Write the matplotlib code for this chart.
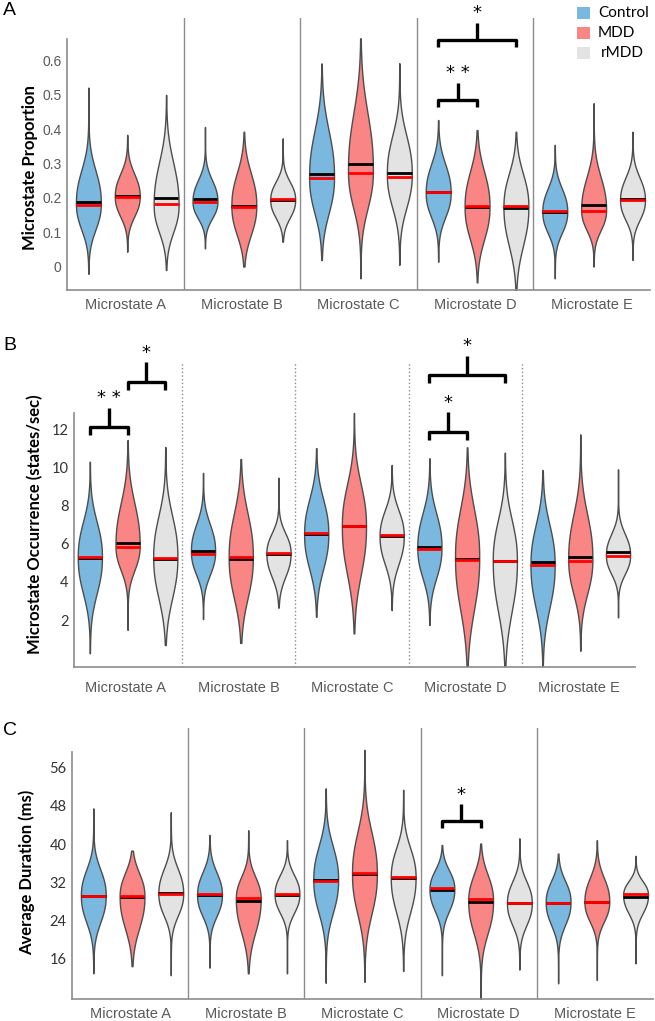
import numpy as np
import matplotlib
matplotlib.use("Agg")
import matplotlib.pyplot as plt
from matplotlib.patches import Rectangle

# ---- data ----
states = ["Microstate A", "Microstate B", "Microstate C", "Microstate D", "Microstate E"]
groups = ["Control", "MDD", "rMDD"]
colors = ["#7ab8e0", "#f98585", "#e3e3e3"]

# Panel A: microstate proportion
prop_lo = {"Control": [-0.02, 0.054, 0.02, 0.015, -0.033],
           "MDD": [0.044, 0.001, -0.033, -0.045, 0.001],
           "rMDD": [-0.009, 0.073, 0.006, -0.067, 0.02]}
prop_hi = {"Control": [0.52, 0.406, 0.59, 0.426, 0.354],
           "MDD": [0.383, 0.392, 0.663, 0.397, 0.475],
           "rMDD": [0.499, 0.373, 0.591, 0.392, 0.392]}
prop_peak = {"Control": [0.185, 0.19, 0.26, 0.215, 0.16],
             "MDD": [0.205, 0.178, 0.28, 0.175, 0.165],
             "rMDD": [0.18, 0.195, 0.27, 0.175, 0.194]}
prop_body_lo = {"Control": [0.06, 0.11, 0.09, 0.10, 0.06],
                "MDD": [0.11, 0.04, 0.10, 0.02, 0.07],
                "rMDD": [0.05, 0.11, 0.11, -0.01, 0.10]}
prop_body_hi = {"Control": [0.34, 0.29, 0.48, 0.35, 0.27],
                "MDD": [0.31, 0.33, 0.55, 0.34, 0.32],
                "rMDD": [0.38, 0.28, 0.45, 0.33, 0.30]}
prop_mean = {"Control": [0.189, 0.197, 0.27, 0.218, 0.159],
             "MDD": [0.206, 0.177, 0.298, 0.173, 0.18],
             "rMDD": [0.199, 0.194, 0.272, 0.172, 0.196]}
prop_median = {"Control": [0.180, 0.189, 0.257, 0.216, 0.161],
               "MDD": [0.203, 0.175, 0.273, 0.176, 0.163],
               "rMDD": [0.182, 0.197, 0.26, 0.178, 0.194]}

# Panel B: occurrence (states/sec)
occ_lo = {"Control": [0.26, 2.05, 2.17, 1.74, -0.4],
          "MDD": [1.48, 0.8, 1.3, -0.4, 0.39],
          "rMDD": [0.69, 2.65, 2.52, -0.4, 2.14]}
occ_hi = {"Control": [10.29, 9.7, 11.0, 10.47, 9.85],
          "MDD": [11.42, 10.43, 12.84, 11.04, 11.72],
          "rMDD": [11.06, 9.45, 10.12, 10.76, 9.89]}
occ_peak = {"Control": [5.3, 5.6, 6.5, 5.8, 4.9],
            "MDD": [5.9, 5.3, 6.9, 5.3, 5.2],
            "rMDD": [5.3, 5.5, 6.4, 5.1, 5.4]}
occ_body_lo = {"Control": [2.2, 3.6, 3.5, 3.2, 1.2],
               "MDD": [3.8, 1.8, 2.8, 0.8, 2.2],
               "rMDD": [1.8, 3.5, 4.0, 0.8, 3.8]}
occ_body_hi = {"Control": [8.3, 7.9, 9.5, 8.7, 8.3],
               "MDD": [9.5, 9.0, 10.5, 9.4, 9.0],
               "rMDD": [8.8, 7.2, 8.6, 8.6, 7.2]}
occ_mean = {"Control": [5.26, 5.63, 6.5, 5.8, 5.05],
            "MDD": [6.05, 5.21, 6.9, 5.19, 5.31],
            "rMDD": [5.21, 5.45, 6.41, 5.07, 5.54]}
occ_median = {"Control": [5.31, 5.45, 6.55, 5.73, 4.88],
              "MDD": [5.84, 5.3, 6.94, 5.15, 5.1],
              "rMDD": [5.26, 5.5, 6.46, 5.1, 5.35]}

# Panel C: average duration (ms)
dur_lo = {"Control": [12.8, 14.0, 10.8, 12.4, 10.7],
          "MDD": [14.3, 12.8, 11.0, 7.4, 11.4],
          "rMDD": [12.4, 12.8, 13.3, 13.6, 14.9]}
dur_hi = {"Control": [47.5, 41.9, 51.7, 39.8, 38.0],
          "MDD": [38.6, 42.9, 59.8, 40.1, 40.8],
          "rMDD": [46.7, 40.8, 51.4, 41.2, 37.5]}
dur_peak = {"Control": [29.2, 29.3, 32.5, 30.5, 27.8],
            "MDD": [29.0, 28.5, 33.7, 28.0, 27.9],
            "rMDD": [29.6, 29.5, 33.0, 27.6, 29.3]}
dur_body_lo = {"Control": [20, 22, 21, 23, 20],
               "MDD": [18, 17, 20, 17, 21],
               "rMDD": [22, 23, 21, 20, 23]}
dur_body_hi = {"Control": [38, 37, 44, 37, 35],
               "MDD": [37, 36, 48, 37, 36],
               "rMDD": [38, 36, 43, 35, 34]}
dur_mean = {"Control": [29.0, 29.2, 32.5, 30.3, 27.6],
            "MDD": [28.8, 28.1, 33.7, 27.7, 27.8],
            "rMDD": [29.8, 29.3, 32.8, 27.5, 28.9]}
dur_median = {"Control": [29.1, 29.4, 32.3, 30.7, 27.6],
              "MDD": [29.05, 28.7, 33.8, 28.4, 27.9],
              "rMDD": [29.4, 29.5, 33.1, 27.5, 29.5]}

# significance brackets: (state index, group a, group b, bracket height, label)
prop_sig = [(3, 0, 1, 0.484, "**"), (3, 0, 2, 0.658, "*")]
occ_sig = [(0, 0, 1, 12.12, "**"), (0, 1, 2, 14.48, "*"),
           (3, 0, 1, 11.86, "*"), (3, 0, 2, 14.83, "*")]
dur_sig = [(3, 0, 1, 44.8, "*")]

prop_ticks = [0, 0.1, 0.2, 0.3, 0.4, 0.5, 0.6]
prop_ticklabels = ["0", "0.1", "0.2", "0.3", "0.4", "0.5", "0.6"]
occ_ticks = [2, 4, 6, 8, 10, 12]
dur_ticks = [16, 24, 32, 40, 48, 56]

# ---- drawing ----
W, H = 655, 1021
fig = plt.figure(figsize=(W / 100, H / 100), dpi=100)

ARIAL = "Liberation Sans"
CALIBRI = "Lato"
OFFS = [0.55, 1.55, 2.55]
HALF = 0.32


def add_axes_px(left, right, top, bottom):
    return fig.add_axes([left / W, 1 - bottom / H, (right - left) / W, (bottom - top) / H])


def half_width(y, c, blo, bhi):
    # rounded body that fades into a thin tail
    s = np.where(y < c, (c - blo) / 1.7, (bhi - c) / 1.7)
    x = np.abs((y - c) / s)
    body = np.exp(-0.5 * x ** 2.4)
    tail = (1 + x ** 2 / 2) ** -1.5
    return HALF * (0.93 * body + 0.07 * tail)


def draw_panel(ax, lo, hi, peak, blo, bhi, mean, median, sig, ylim, spine_top,
               xlim, divider_ls):
    for g in range(5):
        for k, grp in enumerate(groups):
            xc = 3 * g + OFFS[k]
            c = peak[grp][g]
            b0, b1 = blo[grp][g], bhi[grp][g]
            ys = np.linspace(lo[grp][g], hi[grp][g], 400)
            w = half_width(ys, c, b0, b1)
            ax.fill_betweenx(ys, xc - w, xc + w, facecolor=colors[k],
                             edgecolor="#4d4d4d", linewidth=1.0, zorder=2)
            for val, col in [(mean[grp][g], "black"), (median[grp][g], "red")]:
                hw = half_width(np.array([val]), c, b0, b1)[0]
                ax.plot([xc - hw, xc + hw], [val, val], color=col, lw=2.0,
                        solid_capstyle="butt", zorder=3)
    for b in [3, 6, 9, 12]:
        ax.axvline(b, color="#8c8c8c", lw=1.0, ls=divider_ls, zorder=1)

    yr = ylim[1] - ylim[0]
    for g, a, b, top, lab in sig:
        x1, x2 = 3 * g + OFFS[a], 3 * g + OFFS[b]
        xm = (x1 + x2) / 2
        hook = 0.026 * yr
        stem = 0.063 * yr
        ax.plot([x1, x1, x2, x2], [top - hook, top, top, top - hook], color="black",
                lw=2.4, solid_joinstyle="round", solid_capstyle="butt",
                clip_on=False, zorder=4)
        ax.plot([xm, xm], [top, top + stem], color="black", lw=2.4,
                solid_capstyle="butt", clip_on=False, zorder=4)
        ax.text(xm, top + stem + 0.002 * yr, lab.replace("**", "* *"), ha="center",
                va="bottom", fontsize=13, family="DejaVu Sans", clip_on=False)

    ax.set_xlim(*xlim)
    ax.set_ylim(*ylim)
    for s in ["top", "right"]:
        ax.spines[s].set_visible(False)
    ax.spines["left"].set_bounds(ylim[0], spine_top)
    ax.spines["left"].set_color("#8c8c8c")
    ax.spines["bottom"].set_color("#8c8c8c")
    ax.spines["left"].set_linewidth(1.2)
    ax.spines["bottom"].set_linewidth(1.2)
    ax.set_xticks([1.5, 4.5, 7.5, 10.5, 13.5])
    ax.set_xticklabels(states, family=ARIAL, fontsize=10.5, color="#595959")
    ax.tick_params(length=0)


# Panel A
axA = add_axes_px(67, 650, 18, 290)
draw_panel(axA, prop_lo, prop_hi, prop_peak, prop_body_lo, prop_body_hi,
           prop_mean, prop_median, prop_sig, (-0.067, 0.722), 0.66, (0, 15), "-")
axA.set_yticks(prop_ticks)
axA.set_yticklabels(prop_ticklabels, family=ARIAL, fontsize=10, color="#595959")
axA.tick_params(axis="y", pad=4)
axA.tick_params(axis="x", pad=6)

# Panel B
axB = add_axes_px(74, 635, 362, 667)
draw_panel(axB, occ_lo, occ_hi, occ_peak, occ_body_lo, occ_body_hi,
           occ_mean, occ_median, occ_sig, (-0.46, 15.51), 12.84, (0.13, 15), ":")
axB.set_yticks(occ_ticks)
axB.set_yticklabels([str(t) for t in occ_ticks], family=CALIBRI, fontsize=10.5,
                    color="#333333")
axB.tick_params(axis="y", pad=4)
axB.tick_params(axis="x", pad=10)

# Panel C
axC = add_axes_px(72, 653, 728, 999)
draw_panel(axC, dur_lo, dur_hi, dur_peak, dur_body_lo, dur_body_hi,
           dur_mean, dur_median, dur_sig, (7.4, 64.4), 59.4, (0, 15), "-")
axC.set_yticks(dur_ticks)
axC.set_yticklabels([str(t) for t in dur_ticks], family=CALIBRI, fontsize=10.5,
                    color="#333333")
axC.tick_params(axis="y", pad=4)
axC.tick_params(axis="x", pad=6)

# axis titles
fig.text(30 / W, 1 - 168 / H, "Microstate Proportion", rotation=90, ha="center",
         va="center", fontsize=12, fontweight="bold", family=CALIBRI)
fig.text(35 / W, 1 - 524 / H, "Microstate Occurrence (states/sec)", rotation=90,
         ha="center", va="center", fontsize=12, fontweight="bold", family=CALIBRI)
fig.text(27 / W, 1 - 872 / H, "Average Duration (ms)", rotation=90, ha="center",
         va="center", fontsize=12, fontweight="bold", family=CALIBRI)

# panel letters
for lab, top in [("A", 2), ("B", 337), ("C", 722)]:
    fig.text(3 / W, 1 - top / H, lab, ha="left", va="top", fontsize=14, family=ARIAL)

# legend
for k, (grp, yc) in enumerate(zip(groups, [13, 33, 53])):
    fig.add_artist(Rectangle((577 / W, 1 - (yc + 6) / H), 13 / W, 12 / H,
                             transform=fig.transFigure, facecolor=colors[k],
                             edgecolor="none"))
    fig.text((598 if k < 2 else 601) / W, 1 - yc / H, grp, ha="left", va="center",
             fontsize=11, family=CALIBRI)

fig.savefig("out.png", dpi=100)
